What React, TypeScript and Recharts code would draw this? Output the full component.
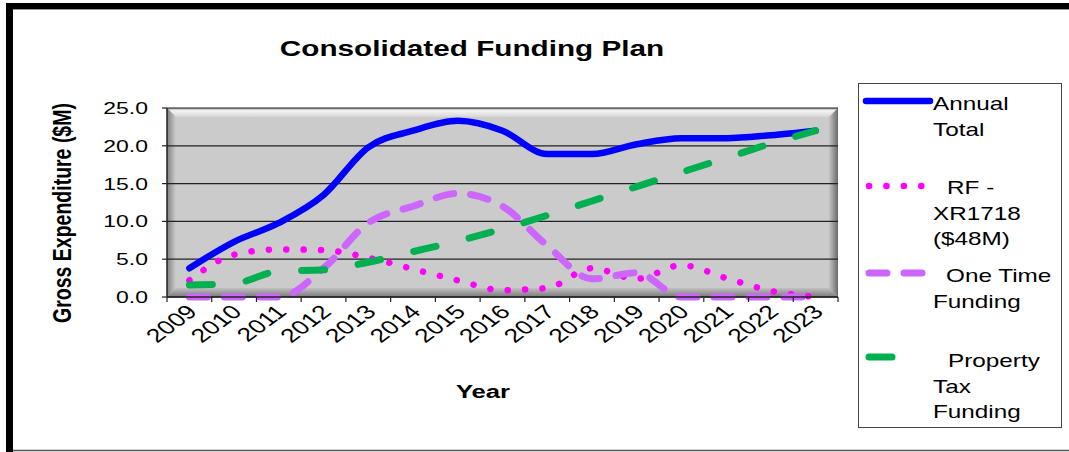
import React from 'react';
import { ComposedChart, Line, XAxis, YAxis, CartesianGrid, Legend } from 'recharts';

const years = ['2009', '2010', '2011', '2012', '2013', '2014', '2015', '2016', '2017', '2018', '2019', '2020', '2021', '2022', '2023'];
const annualTotal = [3.8, 7.3, 9.8, 13.5, 19.8, 22.0, 23.3, 22.0, 18.9, 18.9, 20.2, 21.0, 21.0, 21.4, 22.0];
const rfXr1718 = [2.2, 5.6, 6.3, 6.2, 5.2, 3.7, 2.2, 0.9, 1.2, 3.8, 2.4, 4.2, 2.5, 0.8, 0.0];
const oneTimeFunding = [0, 0, 0, 3.8, 9.8, 12.0, 13.7, 12.0, 6.8, 2.4, 3.2, 0, 0, 0, 0];
const propertyTaxFunding = [1.6, 1.8, 3.4, 3.6, 4.6, 6.0, 7.4, 9.0, 10.8, 12.7, 14.6, 16.5, 18.4, 20.3, 22.0];
const yTicks = [0, 5, 10, 15, 20, 25];

const seriesNames = ['Annual Total', 'RF - XR1718 ($48M)', 'One Time Funding', 'Property Tax Funding'];
const legendLines = [['Annual', 'Total'], ['RF -', 'XR1718', '($48M)'], ['One Time', 'Funding'], ['Property', 'Tax', 'Funding']];

const data = years.map((year, i) => ({
  year,
  annual: annualTotal[i],
  rf: rfXr1718[i],
  oneTime: oneTimeFunding[i],
  propTax: propertyTaxFunding[i],
}));

const W = 1069;
const H = 452;
const PL = 167;
const PR = 838;
const PT = 108;
const PB = 297;
const HALF_BAND = (PR - PL) / years.length / 2;
const SX = 1.35;
const FONT = "'Liberation Sans', Arial, Helvetica, sans-serif";

const series = [
  { key: 'annual', name: seriesNames[0], color: '#0000FF', width: 6.5, dash: undefined as string | undefined },
  { key: 'rf', name: seriesNames[1], color: '#FF00FF', width: 6.5, dash: '0.1 17.3' },
  { key: 'oneTime', name: seriesNames[2], color: '#CC66FF', width: 7, dash: '18 17' },
  { key: 'propTax', name: seriesNames[3], color: '#00B050', width: 7, dash: '23 34' },
];

// legend layout (local coordinates inside legend box)
const legendLineY = [18, 103, 190, 274];
const legendTextY = [27, 111, 199, 284];
const legendIndent = [75, 89, 88, 90];
const legendSampleX = [[8, 72], [11, 64], [11, 64], [11, 37]];

const XTick = (props: any) => {
  const { x, y, payload, index } = props;
  const hb = HALF_BAND;
  return (
    <g>
      <line x1={x - hb} x2={x - hb} y1={y} y2={y + 5} stroke="#222" strokeWidth={1.2} />
      {index === years.length - 1 && <line x1={x + hb} x2={x + hb} y1={y} y2={y + 5} stroke="#222" strokeWidth={1.2} />}
      <text
        transform={`translate(${x + 9},${y + 16}) scale(${SX},1) rotate(-45)`}
        textAnchor="end"
        fontSize={19.5}
        fontFamily={FONT}
        fill="#000"
      >
        {payload.value}
      </text>
    </g>
  );
};

const YTick = (props: any) => {
  const { x, y, payload } = props;
  return (
    <text
      transform={`translate(${x - 14},${y + 6}) scale(${SX},1)`}
      textAnchor="end"
      fontSize={17}
      fontFamily={FONT}
      fill="#000"
    >
      {Number(payload.value).toFixed(1)}
    </text>
  );
};

const LegendBox = (props: any) => {
  const payload = (props.payload || []) as any[];
  const bw = 203;
  const bh = 344;
  return (
    <svg width={bw + 2} height={bh + 2} style={{ display: 'block' }}>
      <rect x={0.5} y={0.5} width={bw} height={bh} fill="#fff" stroke="#444" strokeWidth={1} />
      {series.map((s, i) => {
        const entry = payload.find((p) => p.dataKey === s.key);
        const color = entry && entry.color ? entry.color : s.color;
        const [x1, x2] = legendSampleX[i];
        return (
          <g key={s.key}>
            <line
              x1={x1}
              x2={x2}
              y1={legendLineY[i]}
              y2={legendLineY[i]}
              stroke={color}
              strokeWidth={s.width}
              strokeDasharray={s.dash}
              strokeLinecap="round"
            />
            {legendLines[i].map((t, j) => (
              <text
                key={j}
                transform={`translate(${j === 0 ? legendIndent[i] : 75},${legendTextY[i] + j * 25.5}) scale(${SX},1)`}
                fontSize={18}
                fontFamily={FONT}
                fill="#000"
              >
                {t}
              </text>
            ))}
          </g>
        );
      })}
    </svg>
  );
};

const B = 9;

export default function App() {
  return (
    <div style={{ position: 'absolute', left: 0, top: 0, width: W, height: H, background: '#fff', overflow: 'hidden' }}>
      <svg width={W} height={H} style={{ position: 'absolute', left: 0, top: 0 }}>
        <defs>
          <linearGradient id="bvTop" x1="0" y1="0" x2="0" y2="1">
            <stop offset="0" stopColor="#9a9a9a" />
            <stop offset="0.3" stopColor="#f4f4f4" />
            <stop offset="1" stopColor="#d6d6d6" />
          </linearGradient>
          <linearGradient id="bvLeft" x1="0" y1="0" x2="1" y2="0">
            <stop offset="0" stopColor="#808080" />
            <stop offset="1" stopColor="#cdcdcd" />
          </linearGradient>
          <linearGradient id="bvRight" x1="0" y1="0" x2="1" y2="0">
            <stop offset="0" stopColor="#c4c4c4" />
            <stop offset="1" stopColor="#6a6a6a" />
          </linearGradient>
          <linearGradient id="bvBottom" x1="0" y1="0" x2="0" y2="1">
            <stop offset="0" stopColor="#c0c0c0" />
            <stop offset="1" stopColor="#7a7a7a" />
          </linearGradient>
        </defs>
        {/* outer frame */}
        <rect x={6} y={3} width={W - 6} height={6} fill="#000" />
        <rect x={6} y={3} width={7} height={H - 3} fill="#000" />
        <line x1={13} x2={W} y1={9.5} y2={9.5} stroke="#999" strokeWidth={1} />
        <line x1={13} x2={W} y1={450.5} y2={450.5} stroke="#555" strokeWidth={1.5} />
        {/* bevelled plot background */}
        <rect x={PL} y={PT} width={PR - PL} height={PB - PT} fill="#cbcbcb" />
        <polygon points={`${PL},${PT} ${PR},${PT} ${PR - B},${PT + B} ${PL + B},${PT + B}`} fill="url(#bvTop)" />
        <polygon points={`${PL},${PT} ${PL + B},${PT + B} ${PL + B},${PB - B} ${PL},${PB}`} fill="url(#bvLeft)" />
        <polygon points={`${PR},${PT} ${PR},${PB} ${PR - B},${PB - B} ${PR - B},${PT + B}`} fill="url(#bvRight)" />
        <polygon points={`${PL},${PB} ${PR},${PB} ${PR - B},${PB - B} ${PL + B},${PB - B}`} fill="url(#bvBottom)" />
        {/* titles */}
        <text transform={`translate(472,56) scale(${SX},1)`} textAnchor="middle" fontSize={22} fontWeight="bold" fontFamily={FONT} fill="#000">
          Consolidated Funding Plan
        </text>
        <text transform={`translate(483,398) scale(${SX},1)`} textAnchor="middle" fontSize={19} fontWeight="bold" fontFamily={FONT} fill="#000">
          Year
        </text>
        <text transform={`translate(71,213) scale(${SX},1) rotate(-90)`} textAnchor="middle" fontSize={19.5} fontWeight="bold" fontFamily={FONT} fill="#000">
          Gross Expenditure ($M)
        </text>
      </svg>
      <div style={{ position: 'absolute', left: 0, top: 0 }}>
        <ComposedChart
          width={W}
          height={H}
          data={data}
          margin={{ top: PT, right: W - PR, left: PL - 100, bottom: H - PB - 60 }}
        >
          <CartesianGrid horizontal vertical={false} stroke="#222" strokeWidth={1.2} fill="none" />
          <XAxis
            dataKey="year"
            height={60}
            interval={0}
            padding={{ left: HALF_BAND, right: HALF_BAND }}
            tickSize={0}
            tickMargin={0}
            tickLine={false}
            axisLine={{ stroke: '#222', strokeWidth: 1.5 }}
            tick={<XTick />}
          />
          <YAxis
            width={100}
            domain={[0, 25]}
            ticks={yTicks}
            interval={0}
            tickSize={5}
            tickMargin={0}
            tickLine={{ stroke: '#222', strokeWidth: 1.2 }}
            axisLine={{ stroke: '#222', strokeWidth: 1.5 }}
            tick={<YTick />}
          />
          <Legend
            layout="horizontal"
            verticalAlign="middle"
            align="center"
            content={<LegendBox />}
            wrapperStyle={{ position: 'absolute', left: 858, top: 83, width: 205, height: 346, margin: 0, padding: 0 }}
          />
          {series.map((s) => (
            <Line
              key={s.key}
              type="monotone"
              dataKey={s.key}
              name={s.name}
              stroke={s.color}
              strokeWidth={s.width}
              strokeDasharray={s.dash}
              strokeLinecap="round"
              strokeLinejoin="round"
              dot={false}
              activeDot={false}
              isAnimationActive={false}
            />
          ))}
        </ComposedChart>
      </div>
    </div>
  );
}
